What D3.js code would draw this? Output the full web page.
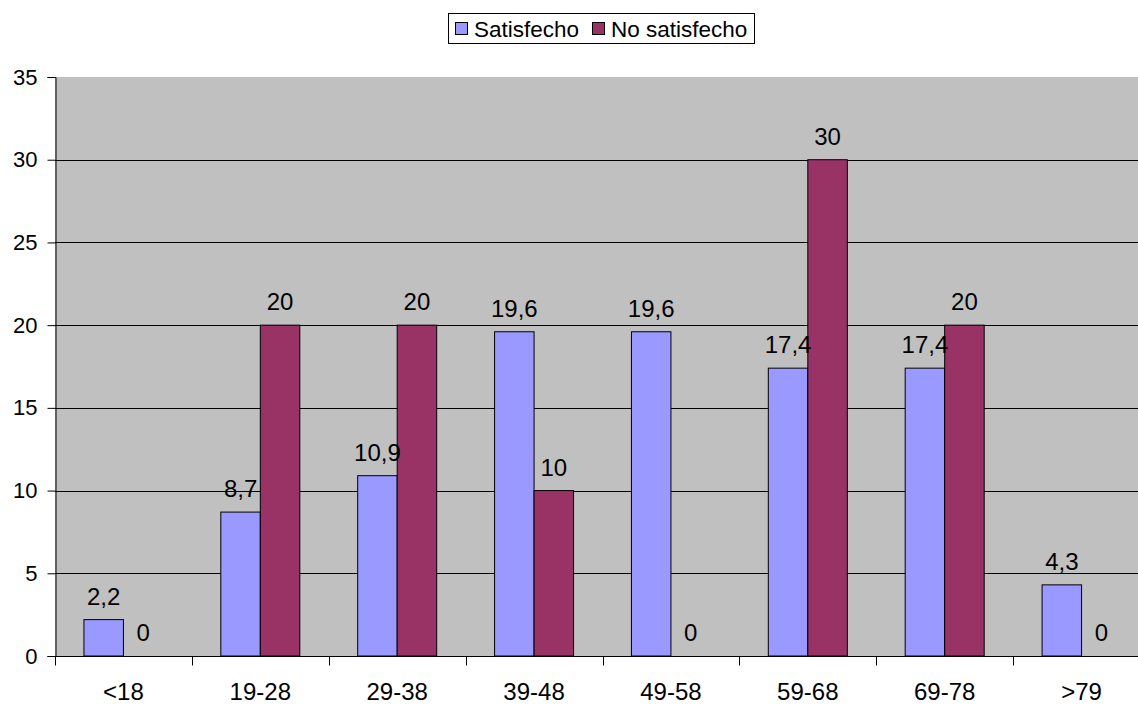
<!DOCTYPE html>
<html>
<head>
<meta charset="utf-8">
<script src="https://cdn.jsdelivr.net/npm/d3@7"></script>
<style>
  html, body { margin: 0; padding: 0; background: #ffffff; }
  svg { display: block; font-family: "Liberation Sans", Arial, sans-serif; }
</style>
</head>
<body>
<svg id="chart" width="1138" height="706"></svg>
<script>
// Age groups and the share (%) of satisfied / not satisfied respondents
const categories = ["<18", "19-28", "29-38", "39-48", "49-58", "59-68", "69-78", ">79"];
const satisfecho = [2.2, 8.7, 10.9, 19.6, 19.6, 17.4, 17.4, 4.3];
const noSatisfecho = [0, 20, 20, 10, 0, 30, 20, 0];
const seriesNames = ["Satisfecho", "No satisfecho"];
const seriesColors = ["#9999ff", "#993366"];
const yTicks = [0, 5, 10, 15, 20, 25, 30, 35];

const svg = d3.select("#chart");
const plotL = 55, plotT = 77, plotB = 656, plotR = 1150;

const x = d3.scaleBand().domain(categories).range([plotL, plotR]).paddingInner(0).paddingOuter(0);
const y = d3.scaleLinear().domain([0, 35]).range([plotB, plotT]);
const bw = 39.5;
const fmt = v => String(v).replace(".", ",");

// plot area background
svg.append("rect")
  .attr("x", plotL).attr("y", plotT)
  .attr("width", plotR - plotL).attr("height", plotB - plotT)
  .attr("fill", "#c0c0c0");

// horizontal gridlines
svg.append("g")
  .selectAll("line")
  .data(yTicks.filter(t => t > 0 && t < 35))
  .join("line")
  .attr("x1", plotL).attr("x2", plotR)
  .attr("y1", d => Math.round(y(d)) + 0.5).attr("y2", d => Math.round(y(d)) + 0.5)
  .attr("stroke", "#000").attr("stroke-width", 1);

// y axis
const yAxis = svg.append("g")
  .attr("transform", `translate(${plotL + 0.5},0)`)
  .call(d3.axisLeft(y).tickValues(yTicks).tickSize(8).tickPadding(10).tickFormat(d => d));
yAxis.select(".domain").attr("stroke", "#000");
yAxis.selectAll(".tick line").attr("stroke", "#000");
yAxis.selectAll("text").attr("font-size", 22).attr("fill", "#000")
  .attr("font-family", "Liberation Sans, Arial, sans-serif");

// x axis with tick marks between categories
const xAxis = svg.append("g").attr("transform", `translate(0,${plotB + 0.5})`);
xAxis.append("line").attr("x1", plotL).attr("x2", plotR).attr("stroke", "#000");
xAxis.selectAll("line.tk")
  .data(d3.range(categories.length + 1))
  .join("line").attr("class", "tk")
  .attr("x1", i => Math.round(plotL + i * x.bandwidth()) + 0.5)
  .attr("x2", i => Math.round(plotL + i * x.bandwidth()) + 0.5)
  .attr("y1", 0).attr("y2", 9)
  .attr("stroke", "#000");
xAxis.selectAll("text")
  .data(categories)
  .join("text")
  .attr("x", d => x(d) + x.bandwidth() / 2)
  .attr("y", 43)
  .attr("text-anchor", "middle")
  .attr("font-size", 24)
  .text(d => d);

// grouped bars, then value labels on top of everything
const series = [satisfecho, noSatisfecho];
const barX = (s, i) => x(categories[i]) + x.bandwidth() / 2 + (s === 0 ? -bw : 0);
const barLayer = svg.append("g");
const labelLayer = svg.append("g");
series.forEach((vals, s) => {
  barLayer.append("g").selectAll("rect")
    .data(vals)
    .join("rect")
    .attr("x", (d, i) => barX(s, i))
    .attr("y", d => y(d))
    .attr("width", bw)
    .attr("height", d => y(0) - y(d))
    .attr("fill", seriesColors[s])
    .attr("stroke", "#000")
    .attr("stroke-width", d => d > 0 ? 1 : 0);
  labelLayer.append("g").selectAll("text")
    .data(vals)
    .join("text")
    .attr("x", (d, i) => barX(s, i) + bw / 2)
    .attr("y", d => y(d) - 15)
    .attr("text-anchor", "middle")
    .attr("font-size", 24)
    .text(d => fmt(d));
});

// legend
const lg = svg.append("g");
lg.append("rect").attr("x", 448.5).attr("y", 13.5).attr("width", 306).attr("height", 30)
  .attr("fill", "#fff").attr("stroke", "#000");
const legendX = [455, 592];
seriesNames.forEach((n, i) => {
  lg.append("rect").attr("x", legendX[i] + 0.5).attr("y", 22.5).attr("width", 12).attr("height", 12)
    .attr("fill", seriesColors[i]).attr("stroke", "#000");
  lg.append("text").attr("x", legendX[i] + 19).attr("y", 37).attr("font-size", 22.5).text(n);
});
</script>
</body>
</html>
